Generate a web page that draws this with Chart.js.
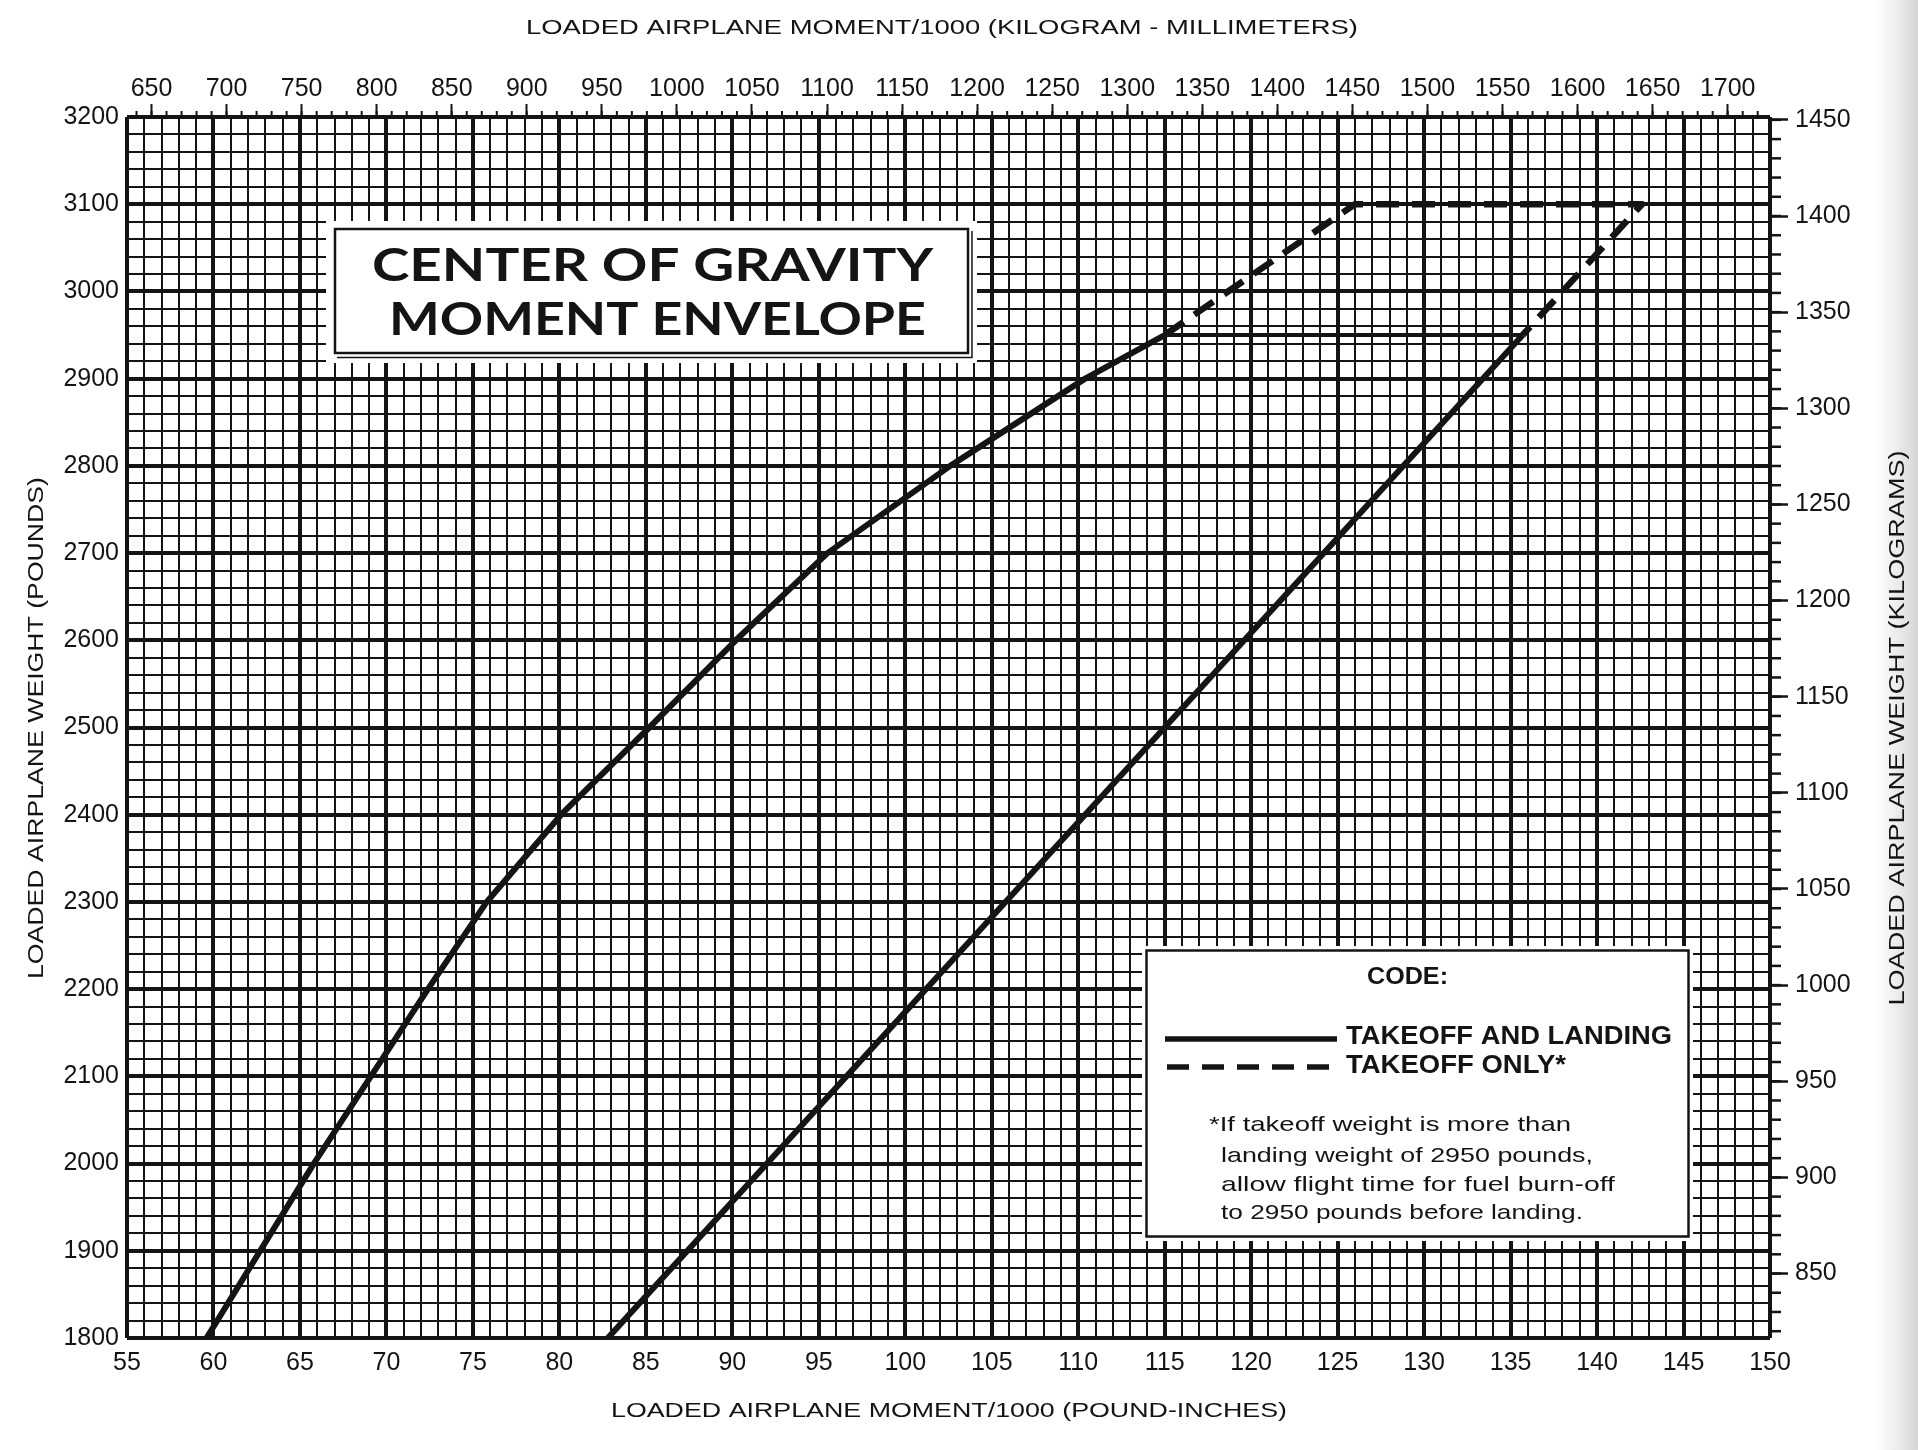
<!DOCTYPE html>
<html><head><meta charset="utf-8">
<script src="https://cdn.jsdelivr.net/npm/chart.js@4.4.1/dist/chart.umd.min.js"></script>
<style>html,body{margin:0;padding:0;background:#fff;overflow:hidden}canvas{display:block}</style>
</head><body>
<canvas id="c" width="1918" height="1450"></canvas>
<script>
// ---------- data ----------
const fwdMoment = [59.6, 65.8, 72.4, 75.8, 80.1, 85.2, 90.2, 95.5, 102.6, 110.4, 115.0];
const fwdWeight = [1800, 2000, 2200, 2300, 2400, 2500, 2600, 2700, 2800, 2900, 2950];
const aftMoment = [82.8, 135.7];
const aftWeight = [1800, 2950];
const landMoment = [115.0, 135.7];
const landWeight = [2950, 2950];
const takeoffMoment = [115.0, 126.0, 142.6, 135.7];
const takeoffWeight = [2950, 3100, 3100, 2950];

const bottomTickLabels = [55,60,65,70,75,80,85,90,95,100,105,110,115,120,125,130,135,140,145,150];
const leftTickLabels = [1800,1900,2000,2100,2200,2300,2400,2500,2600,2700,2800,2900,3000,3100,3200];
const topTickLabels = [650,700,750,800,850,900,950,1000,1050,1100,1150,1200,1250,1300,1350,1400,1450,1500,1550,1600,1650,1700];
const rightTickLabels = [850,900,950,1000,1050,1100,1150,1200,1250,1300,1350,1400,1450];

const titleLines = ['CENTER OF GRAVITY', 'MOMENT ENVELOPE'];
const topTitle = 'LOADED AIRPLANE MOMENT/1000 (KILOGRAM - MILLIMETERS)';
const bottomTitle = 'LOADED AIRPLANE MOMENT/1000 (POUND-INCHES)';
const leftTitle = 'LOADED AIRPLANE WEIGHT (POUNDS)';
const rightTitle = 'LOADED AIRPLANE WEIGHT (KILOGRAMS)';
const legendHeader = 'CODE:';
const legendSolid = 'TAKEOFF AND LANDING';
const legendDashed = 'TAKEOFF ONLY*';
const footnoteLines = ['*If takeoff weight is more than', 'landing weight of 2950 pounds,', 'allow flight time for fuel burn-off', 'to 2950 pounds before landing.'];

const X_MIN = 55, X_MAX = 150, Y_MIN = 1800, Y_MAX = 3200;
const LBIN_TO_KGMM = 0.45359237 * 25.4;
const LB_TO_KG = 0.45359237;

// ---------- styling ----------
const INK = '#141414';
const FONT = "'Liberation Sans', Arial, sans-serif";
const pts = (xs, ys) => xs.map((x, i) => ({x, y: ys[i]}));

function fitText(ctx, text, left, cy, width, font) {
  ctx.save();
  ctx.font = font; ctx.textBaseline = 'middle'; ctx.textAlign = 'left';
  const w = ctx.measureText(text).width;
  ctx.translate(left, cy); ctx.scale(width / w, 1);
  ctx.fillText(text, 0, 0);
  ctx.restore();
}
function fitTextRot(ctx, text, cx, cy, width, font) {
  ctx.save();
  ctx.font = font; ctx.textBaseline = 'middle'; ctx.textAlign = 'center';
  const w = ctx.measureText(text).width;
  ctx.translate(cx, cy); ctx.rotate(-Math.PI / 2); ctx.scale(width / w, 1);
  ctx.fillText(text, 0, 0);
  ctx.restore();
}

const decor = {
  id: 'decor',
  beforeDraw(chart) {
    const ctx = chart.ctx;
    ctx.save();
    ctx.fillStyle = '#fff';
    ctx.fillRect(0, 0, chart.width, chart.height);
    const g = ctx.createLinearGradient(1876, 0, 1918, 0);
    g.addColorStop(0, 'rgba(220,220,220,0)');
    g.addColorStop(1, 'rgba(214,214,214,1)');
    ctx.fillStyle = g;
    ctx.fillRect(1876, 0, 42, chart.height);
    ctx.restore();
  },
  afterDraw(chart) {
    const ctx = chart.ctx;
    const ca = chart.chartArea;
    const sx2 = chart.scales.x2, sy2 = chart.scales.y2;
    ctx.save();
    ctx.strokeStyle = INK; ctx.fillStyle = INK;

    // minor ticks on the top (kg-mm) axis
    ctx.lineWidth = 2;
    for (let v = 640; v <= 1720; v += 10) {
      if (v < sx2.min || v > sx2.max) continue;
      const px = sx2.getPixelForValue(v);
      ctx.beginPath(); ctx.moveTo(px, ca.top); ctx.lineTo(px, ca.top - 6); ctx.stroke();
    }
    // minor ticks on the right (kg) axis
    ctx.lineWidth = 2.5;
    for (let v = 820; v <= 1450; v += 10) {
      if (v < sy2.min || v > sy2.max) continue;
      const py = sy2.getPixelForValue(v);
      ctx.beginPath(); ctx.moveTo(ca.right, py); ctx.lineTo(ca.right + 11, py); ctx.stroke();
    }

    // axis titles
    fitText(ctx, topTitle, 526, 28, 832, `21px ${FONT}`);
    fitText(ctx, bottomTitle, 611, 1411, 676, `21px ${FONT}`);
    fitTextRot(ctx, leftTitle, 37, 728, 502, `22px ${FONT}`);
    fitTextRot(ctx, rightTitle, 1898, 728, 555, `22px ${FONT}`);

    // title box
    ctx.fillStyle = '#fff';
    ctx.fillRect(326, 221, 651, 142);
    ctx.strokeStyle = INK; ctx.lineWidth = 2.5;
    ctx.strokeRect(335, 229, 633, 124);
    ctx.lineWidth = 1.5;
    ctx.beginPath(); ctx.moveTo(337, 357.5); ctx.lineTo(972, 357.5); ctx.lineTo(972, 231); ctx.stroke();
    ctx.fillStyle = INK;
    fitText(ctx, titleLines[0], 372, 266, 561, `bold 46px Lato, ${FONT}`);
    fitText(ctx, titleLines[1], 389, 320, 537, `bold 46px Lato, ${FONT}`);

    // legend box
    ctx.fillStyle = '#fff';
    ctx.fillRect(1142, 946, 551, 295);
    ctx.lineWidth = 2.5;
    ctx.strokeRect(1146.5, 950.5, 542, 286);
    ctx.fillStyle = INK;
    fitText(ctx, legendHeader, 1367, 978, 81, `bold 23px ${FONT}`);
    ctx.lineWidth = 5.5; ctx.lineCap = 'butt';
    ctx.beginPath(); ctx.moveTo(1165, 1039); ctx.lineTo(1337, 1039); ctx.stroke();
    ctx.setLineDash([22, 13]);
    ctx.beginPath(); ctx.moveTo(1167, 1067); ctx.lineTo(1336, 1067); ctx.stroke();
    ctx.setLineDash([]);
    fitText(ctx, legendSolid, 1346, 1037, 326, `bold 25px ${FONT}`);
    fitText(ctx, legendDashed, 1346, 1066, 220, `bold 25px ${FONT}`);
    const fnLeft = [1209, 1221, 1221, 1221];
    const fnWidth = [362, 372, 394, 362];
    const fnY = [1125, 1156, 1185, 1213];
    footnoteLines.forEach((t, i) => fitText(ctx, t, fnLeft[i], fnY[i], fnWidth[i], `21px ${FONT}`));
    ctx.restore();
  }
};

const lineDs = (label, data, dash, width) => ({
  label, data, showLine: true, fill: false, tension: 0,
  borderColor: INK, backgroundColor: INK, borderWidth: width,
  borderDash: dash, borderCapStyle: 'butt', borderJoinStyle: 'round',
  pointRadius: 0, pointHoverRadius: 0
});

new Chart(document.getElementById('c'), {
  type: 'scatter',
  data: {
    datasets: [
      lineDs('Forward limit', pts(fwdMoment, fwdWeight), [], 6),
      lineDs('Aft limit', pts(aftMoment, aftWeight), [], 6),
      lineDs('Landing weight limit', pts(landMoment, landWeight), [], 4),
      lineDs('Takeoff only', pts(takeoffMoment, takeoffWeight), [23, 13], 6.5)
    ]
  },
  options: {
    responsive: false, animation: false, devicePixelRatio: 1,
    layout: { padding: 0 },
    plugins: { legend: { display: false }, tooltip: { enabled: false }, title: { display: false } },
    scales: {
      x: {
        type: 'linear', position: 'bottom', min: X_MIN, max: X_MAX,
        afterBuildTicks: s => { const t = []; for (let v = X_MIN; v <= X_MAX; v++) t.push({value: v}); s.ticks = t; },
        afterFit: s => { s.height = 112; },
        ticks: { autoSkip: false, maxRotation: 0, minRotation: 0, padding: 10, color: INK,
          font: { family: FONT, size: 25 },
          callback: v => bottomTickLabels.includes(v) ? String(v) : '' },
        grid: { color: INK, drawTicks: false,
          lineWidth: c => (c.tick && c.tick.value % 5 === 0) ? 4 : 2 },
        border: { display: false }
      },
      x2: {
        type: 'linear', position: 'top', min: X_MIN * LBIN_TO_KGMM, max: X_MAX * LBIN_TO_KGMM,
        afterBuildTicks: s => { s.ticks = topTickLabels.map(v => ({value: v})); },
        afterFit: s => { s.height = 117; },
        ticks: { autoSkip: false, maxRotation: 0, minRotation: 0, padding: 0, color: INK,
          font: { family: FONT, size: 25 }, callback: v => String(v) },
        grid: { drawOnChartArea: false, drawTicks: true, tickLength: 13, tickWidth: 2, tickColor: INK, color: INK },
        border: { display: false }
      },
      y: {
        type: 'linear', position: 'left', min: Y_MIN, max: Y_MAX,
        afterBuildTicks: s => { const t = []; for (let v = Y_MIN; v <= Y_MAX; v += 20) t.push({value: v}); s.ticks = t; },
        afterFit: s => { s.width = 127; },
        ticks: { autoSkip: false, padding: 8, color: INK,
          font: { family: FONT, size: 25 },
          callback: v => leftTickLabels.includes(v) ? String(v) : '' },
        grid: { color: INK, drawTicks: false,
          lineWidth: c => (c.tick && c.tick.value % 100 === 0) ? 4 : 2 },
        border: { display: false }
      },
      y2: {
        type: 'linear', position: 'right', min: Y_MIN * LB_TO_KG, max: Y_MAX * LB_TO_KG,
        afterBuildTicks: s => { s.ticks = rightTickLabels.map(v => ({value: v})); },
        afterFit: s => { s.width = 148; },
        ticks: { autoSkip: false, padding: 7, color: INK,
          font: { family: FONT, size: 25 }, callback: v => String(v) },
        grid: { drawOnChartArea: false, drawTicks: true, tickLength: 18, tickWidth: 2.5, tickColor: INK, color: INK },
        border: { display: false }
      }
    }
  },
  plugins: [decor]
});
</script>
</body></html>
